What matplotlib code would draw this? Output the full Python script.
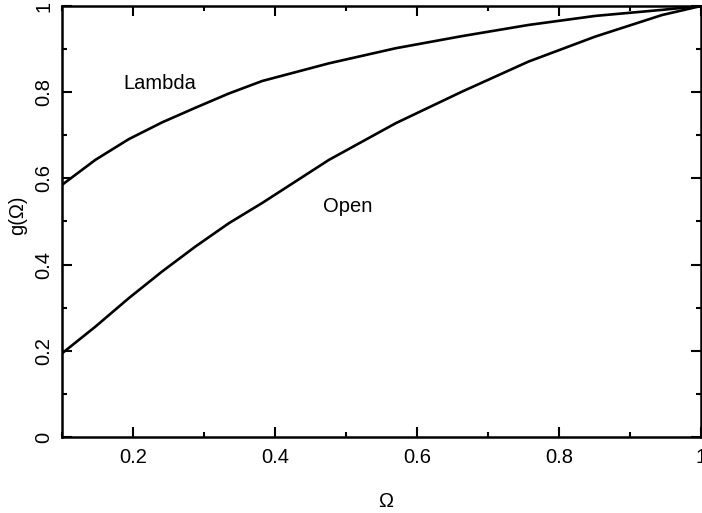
import matplotlib
matplotlib.use("Agg")
import matplotlib.pyplot as plt
from matplotlib.ticker import MultipleLocator

# Data
omega = [0.100, 0.147, 0.194, 0.241, 0.288, 0.335, 0.382, 0.476, 0.570, 0.663, 0.757, 0.851, 0.945, 1.000]
g_lambda = [0.585, 0.643, 0.691, 0.730, 0.764, 0.797, 0.826, 0.867, 0.902, 0.930, 0.956, 0.977, 0.991, 1.000]
g_open = [0.194, 0.256, 0.322, 0.384, 0.442, 0.496, 0.543, 0.643, 0.728, 0.801, 0.871, 0.929, 0.979, 1.000]

x_ticks = [0.2, 0.4, 0.6, 0.8, 1.0]
x_ticklabels = ["0.2", "0.4", "0.6", "0.8", "1"]
y_ticks = [0, 0.2, 0.4, 0.6, 0.8, 1.0]
y_ticklabels = ["0", "0.2", "0.4", "0.6", "0.8", "1"]

plt.rcParams['font.family'] = ['Liberation Sans', 'DejaVu Sans']

fig = plt.figure(figsize=(7.02, 5.13), dpi=100)
ax = fig.add_axes([62/702, 76/513, 639/702, 431/513])

ax.plot(omega, g_lambda, color='black', lw=1.9, solid_joinstyle='round')
ax.plot(omega, g_open, color='black', lw=1.9, solid_joinstyle='round')

ax.set_xlim(0.1, 1.0)
ax.set_ylim(0, 1.0)

fs = 14.5
ax.set_xticks(x_ticks)
ax.set_xticklabels(x_ticklabels, fontsize=fs)
ax.set_yticks(y_ticks)
ax.set_yticklabels(y_ticklabels, fontsize=fs, rotation=90, va='center')
ax.xaxis.set_minor_locator(MultipleLocator(0.1))
ax.yaxis.set_minor_locator(MultipleLocator(0.1))

ax.tick_params(which='both', direction='in', top=True, right=True, width=1.5)
ax.tick_params(axis='x', which='major', length=7.5, pad=8)
ax.tick_params(axis='y', which='major', length=7.5, pad=6)
ax.tick_params(which='minor', length=3.8)
for s in ax.spines.values():
    s.set_linewidth(1.8)

ax.text(0.186, 0.821, "Lambda", fontsize=fs, va='center', ha='left')
ax.text(0.468, 0.534, "Open", fontsize=fs, va='center', ha='left')

ax.set_xlabel("Ω", fontsize=fs)
ax.set_ylabel("g(Ω)", fontsize=fs)
ax.xaxis.set_label_coords(0.506, -0.127)
ax.yaxis.set_label_coords(-0.055, 0.515)

fig.savefig("out.png", dpi=100)
